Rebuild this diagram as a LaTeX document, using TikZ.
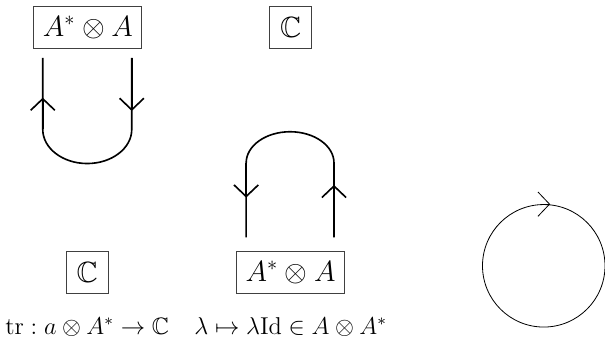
\documentclass[tikz,border=0pt]{standalone}
\usepackage{amsmath,amssymb}
\usetikzlibrary{arrows.meta,positioning,calc}

\tikzset{
  obj/.style={draw=black!75, inner xsep=4.5pt, inner ysep=3pt, minimum size=0.73cm, font=\Large},
  strand/.style={thick},
  barb/.style={-{Straight Barb[length=2mm,width=4.2mm]}},
  caption/.style={font=\fontsize{11.7}{13}\selectfont}
}

\begin{document}
\begin{tikzpicture}
        \useasboundingbox (0,0) rectangle (10.47,5.86);
        % Objects
        \node[obj] (topAA) at (1.52,5.38) {$A^* \otimes A$};
        \node[obj] (topC) at (5.03,5.38) {$\mathbb{C}$};
        \node[obj] (botC) at (1.51,1.15) {$\mathbb{C}$};
        \node[obj] (botAA) at (5.03,1.14) {$A^* \otimes A$};
        % Cap (evaluation)
        \coordinate (capL) at (0.74,4.86);
        \coordinate (capR) at (2.28,4.86);
        \draw[strand] (capL) -- (0.74,3.62) arc[start angle=180, end angle=360, x radius=0.77, y radius=0.59] -- (capR);
        \draw[strand, barb] (0.74,3.62) -- (0.74,4.17);
        \draw[strand, barb] (capR) -- (2.28,3.94);
        % Cup (coevaluation)
        \coordinate (cupL) at (4.26,1.75);
        \coordinate (cupR) at (5.78,1.75);
        \draw[strand] (cupL) -- (4.26,3.04) arc[start angle=180, end angle=0, x radius=0.76, y radius=0.54] -- (cupR);
        \draw[strand, barb] (4.26,3.04) -- (4.26,2.44);
        \draw[strand, barb] (cupR) -- (5.78,2.66);
        % Loop
        \node[circle, draw, thin, minimum size=2.12cm, inner sep=0pt] (loop) at (9.41,1.26) {};
        \draw[thin, barb] ($(loop.north)+(-0.05,0)$) -- ++(0.16,0);
        % Labels
        \node[caption] (trLabel) at (1.51,0.2) {$\mathrm{tr} : a \otimes A^* \to \mathbb{C}$};
        \node[caption] (coevLabel) at (5.03,0.2) {$\lambda \mapsto \lambda \mathrm{Id} \in A \otimes A^*$};
\end{tikzpicture}
\end{document}
